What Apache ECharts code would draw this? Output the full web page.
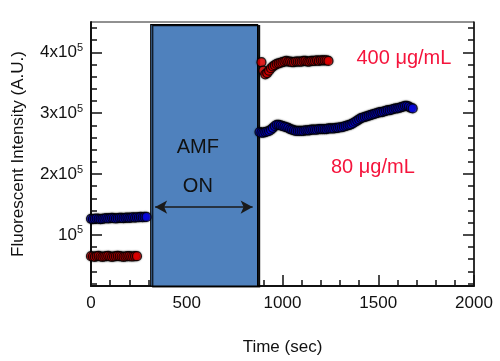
<!DOCTYPE html>
<html>
<head>
<meta charset="utf-8">
<script src="https://cdn.jsdelivr.net/npm/echarts@6/dist/echarts.min.js"></script>
<style>
  html, body { margin: 0; padding: 0; background: #fff; }
  #chart { width: 500px; height: 361px; }
</style>
</head>
<body>
<div id="chart"></div>
<script>
// 400 ug/mL (red) before field
var redBeforeTime = [0,10,20,30,40,50,60,70,80,90,100,110,120,130,140,150,160,170,180,190,200,210,220,230,240];
var redBeforeVal = [65000,64500,64000,65000,65500,64500,64000,64500,65000,65500,64500,64000,64500,65000,65500,65000,64500,64000,64500,65000,65000,64500,64500,65000,65000];
// 400 ug/mL (red) after field
var redAfterTime = [890,900,910,920,930,940,950,960,970,980,990,1000,1010,1020,1030,1040,1050,1060,1070,1080,1090,1100,1110,1120,1130,1140,1150,1160,1170,1180,1190,1200,1210,1220,1230,1240];
var redAfterVal = [384000,370000,364000,366000,370000,374000,377000,379000,381000,382000,383000,384000,385000,386000,385000,385000,384000,384000,385000,385000,385000,385000,386000,386000,385000,385000,386000,386000,386000,387000,386000,387000,387000,387000,387000,386000];
// 80 ug/mL (blue) before field
var blueBeforeTime = [0,10,20,30,40,50,60,70,80,90,100,110,120,130,140,150,160,170,180,190,200,210,220,230,240,250,260,270,280,290];
var blueBeforeVal = [126500,126000,126500,127000,126500,126000,126500,127000,127500,127000,127500,128000,127500,127000,127500,128000,128000,127500,128000,128500,128000,128500,129000,128500,129000,129000,129500,129000,129500,129500];
// 80 ug/mL (blue) after field
var blueAfterTime = [880,890,900,910,920,930,940,950,960,970,980,990,1000,1010,1020,1030,1040,1050,1060,1070,1080,1090,1100,1110,1120,1130,1140,1150,1160,1170,1180,1190,1200,1210,1220,1230,1240,1250,1260,1270,1280,1290,1300,1310,1320,1330,1340,1350,1360,1370,1380,1390,1400,1410,1420,1430,1440,1450,1460,1470,1480,1490,1500,1510,1520,1530,1540,1550,1560,1570,1580,1590,1600,1610,1620,1630,1640,1650,1660,1670,1680];
var blueAfterVal = [269000,268000,268000,269000,270000,271000,273000,276000,279000,281000,281000,280000,279000,278000,277000,276000,274000,273000,272000,271000,271000,271000,271000,271000,272000,272000,272000,273000,273000,273000,273000,274000,274000,274000,274000,274000,275000,275000,275000,275000,276000,276000,277000,277000,278000,279000,280000,281000,282000,284000,286000,288000,290000,292000,293000,294000,295000,296000,297000,298000,299000,300000,301000,302000,302000,303000,304000,305000,305000,306000,307000,308000,308000,309000,310000,311000,312000,312000,311000,309000,308000];

// AMF on period and arrow
var amfStart = 312, amfEnd = 870, amfTop = 445700;
var arrowFrom = 335, arrowTo = 844, arrowLevel = 145700;

var xTicks = [0, 500, 1000, 1500, 2000];
var yLabelValues = [100000, 200000, 300000, 400000];
var yLabelText = ['10', '2x10', '3x10', '4x10'];
var yMinorValues = [20000,40000,60000,80000,120000,140000,160000,180000,220000,240000,260000,280000,320000,340000,360000,380000,420000,440000];

function pairs(t, v) { return t.map(function (x, i) { return [x, v[i]]; }); }

var FONT = 'Liberation Sans';
var RED = '#f00000', BLUE = '#0808f0', LABEL_RED = '#f5143c';

function markerStyle(c) {
  return { color: c, borderColor: '#000', borderWidth: 1.2, shadowColor: 'rgba(0,0,0,0.45)', shadowBlur: 2 };
}

var yMin = 16000, yMax = 450000;
function yAxisDef(pos, major, withLabel) {
  return {
    type: 'value', position: pos, min: yMin, max: yMax,
    splitLine: { show: false },
    axisLine: { show: withLabel, lineStyle: { color: '#111', width: pos === 'left' ? 2 : 1.5 } },
    axisTick: { show: true, inside: true, length: major ? 11 : 6, customValues: major ? yLabelValues : yMinorValues, lineStyle: { color: '#111', width: 1.5 } },
    axisLabel: withLabel && pos === 'left' ? {
      show: true, margin: 8, customValues: yLabelValues,
      formatter: function (v) {
        var i = yLabelValues.indexOf(v);
        return '{a|' + yLabelText[i] + '}{s|5}';
      },
      rich: {
        a: { fontFamily: FONT, fontSize: 17, color: '#111', lineHeight: 20 },
        s: { fontFamily: FONT, fontSize: 11, color: '#111', verticalAlign: 'top', lineHeight: 11 }
      }
    } : { show: false },
    name: withLabel && pos === 'left' ? 'Fluorescent Intensity (A.U.)' : '',
    nameLocation: 'middle', nameGap: 64, nameRotate: 90,
    nameTextStyle: { fontFamily: FONT, fontSize: 17, color: '#111' }
  };
}

var chart = echarts.init(document.getElementById('chart'), null, { renderer: 'canvas' });
chart.setOption({
  animation: false,
  backgroundColor: '#fff',
  grid: { left: 91, right: 26, top: 22, bottom: 70, show: true, borderColor: '#222', borderWidth: 1, backgroundColor: 'transparent' },
  xAxis: {
    type: 'value', min: 0, max: 2000, interval: 500,
    splitLine: { show: false },
    axisLine: { onZero: false, lineStyle: { color: '#111', width: 2 } },
    axisTick: { inside: true, length: 11, lineStyle: { color: '#111', width: 1.5 } },
    minorTick: { show: true, splitNumber: 5, length: 6, lineStyle: { color: '#111', width: 1.5 } },
    axisLabel: { margin: 9, fontFamily: FONT, fontSize: 17, color: '#111',
      formatter: function (v) { return xTicks.indexOf(v) >= 0 ? String(v) : ''; } },
    name: 'Time (sec)', nameLocation: 'middle', nameGap: 53,
    nameTextStyle: { fontFamily: FONT, fontSize: 17, color: '#111' }
  },
  yAxis: [
    yAxisDef('left', true, true),
    yAxisDef('left', false, false),
    yAxisDef('right', true, true),
    yAxisDef('right', false, false)
  ],
  series: [
    {
      type: 'scatter', name: 'AMF', data: [], silent: true, z: 1,
      markArea: {
        silent: true,
        itemStyle: { color: '#4f81bd', borderColor: '#000', borderWidth: 1.2, shadowColor: 'rgba(0,0,0,0.9)', shadowOffsetX: 2, shadowOffsetY: 1, shadowBlur: 0 },
        data: [[{ coord: [amfStart, amfTop] }, { coord: [amfEnd, yMin] }]]
      },
      markLine: {
        silent: true, symbol: ['arrow', 'arrow'], symbolSize: [10, 12],
        lineStyle: { color: '#1a1a1a', width: 1.5, type: 'solid' },
        label: { show: false },
        data: [[{ coord: [arrowFrom, arrowLevel] }, { coord: [arrowTo, arrowLevel] }]]
      },
      markPoint: {
        silent: true, symbol: 'circle', symbolSize: 0,
        label: { show: true, position: 'inside', fontFamily: FONT, fontSize: 20, color: '#111', formatter: '{b}' },
        data: [
          { name: 'AMF', coord: [558, 243800] },
          { name: 'ON', coord: [558, 179200] },
          { name: '400 μg/mL', coord: [1634, 389200], label: { color: LABEL_RED } },
          { name: '80 μg/mL', coord: [1472, 211500], label: { color: LABEL_RED } }
        ]
      }
    },
    { type: 'scatter', data: pairs(redBeforeTime, redBeforeVal), symbolSize: 9, itemStyle: markerStyle(RED), z: 3 },
    { type: 'scatter', data: pairs(redAfterTime, redAfterVal), symbolSize: 9, itemStyle: markerStyle(RED), z: 3 },
    { type: 'scatter', data: pairs(blueBeforeTime, blueBeforeVal), symbolSize: 9, itemStyle: markerStyle(BLUE), z: 3 },
    { type: 'scatter', data: pairs(blueAfterTime, blueAfterVal), symbolSize: 9, itemStyle: markerStyle(BLUE), z: 3 }
  ]
});
</script>
</body>
</html>
